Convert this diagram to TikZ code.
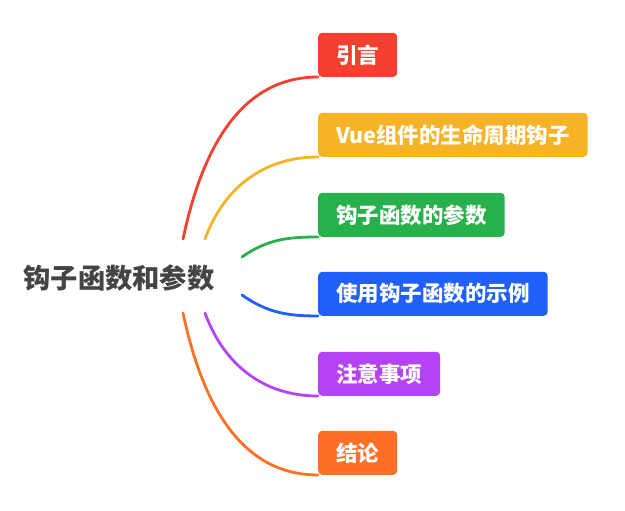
\documentclass[tikz,border=0pt]{standalone}
\usepackage{fontspec}
\setmainfont{Noto Sans CJK SC}
\usetikzlibrary{positioning, backgrounds}

\definecolor{topicgray}{HTML}{444444}
\definecolor{brred}{HTML}{F53F2F}
\definecolor{bryellow}{HTML}{F5B325}
\definecolor{brgreen}{HTML}{28B04C}
\definecolor{brblue}{HTML}{2060F8}
\definecolor{brpurple}{HTML}{B443F5}
\definecolor{brorange}{HTML}{FF6F26}

\begin{document}
\begin{tikzpicture}[
    x=1pt, y=1pt,
    topic node/.style={
        text=topicgray, font=\fontsize{27.3}{31}\selectfont\bfseries,
        inner sep=0pt
    },
    sub node/.style={
        fill=#1, rectangle, rounded corners=4pt, anchor=south west,
        minimum height=44pt, inner xsep=18pt, inner ysep=0pt,
        text=white, font=\fontsize{21.5}{25}\selectfont\bfseries
    },
    branch/.style={draw=#1, line width=2.8pt, line cap=round}
]

\useasboundingbox (0,0) rectangle (625,-511);

% ------------------------------------------------------------------------------
% 1. TEMA CENTRAL
% ------------------------------------------------------------------------------
\node[topic node] (topic) at (119,-278) {钩子函数和参数};

% puntos de salida de las ramas
\coordinate (s1) at (183,-239);
\coordinate (s2) at (205,-239);
\coordinate (s3) at (242,-257);
\coordinate (s4) at (242,-295);
\coordinate (s5) at (205,-313);
\coordinate (s6) at (183,-313);

% ------------------------------------------------------------------------------
% 2. SUBTEMAS
% ------------------------------------------------------------------------------
\node[sub node=brred] (intro) at (318,-77) {引言};
\node[sub node=bryellow] (life) at (318,-157) {Vue组件的生命周期钩子};
\node[sub node=brgreen] (param) at (318,-237) {钩子函数的参数};
\node[sub node=brblue] (demo) at (318,-316) {使用钩子函数的示例};
\node[sub node=brpurple] (note) at (318,-396) {注意事项};
\node[sub node=brorange] (concl) at (318,-475) {结论};

% ------------------------------------------------------------------------------
% 3. RAMAS (capa de fondo)
% ------------------------------------------------------------------------------
\begin{scope}[on background layer]
\foreach \s/\b/\c/\a in {s1/intro/brred/78, s2/life/bryellow/70, s3/param/brgreen/35,
                          s4/demo/brblue/-35, s5/note/brpurple/-70, s6/concl/brorange/-78} {
    \draw[branch=\c] (\s) to[out=\a, in=180] (\b.south west);
}
\end{scope}

\end{tikzpicture}
\end{document}
